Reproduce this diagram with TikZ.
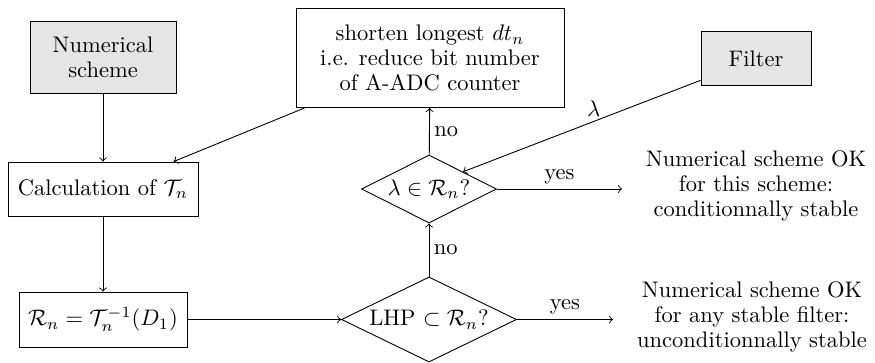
\documentclass[tikz,border=0pt]{standalone}
\usepackage{amsmath,amssymb}
\usetikzlibrary{shapes.geometric}

\tikzset{
  box/.style={draw=black, line width=0.4pt, inner sep=0pt, align=center,
    font=\fontsize{10}{11}\selectfont},
  inputbox/.style={box, fill=black!10},
  decision/.style={draw=black, line width=0.4pt, diamond, shape aspect=2,
    inner sep=0pt, font=\fontsize{10}{11}\selectfont},
  result/.style={align=center, inner sep=0pt, font=\fontsize{10}{11}\selectfont},
  flow/.style={draw=black, line width=0.4pt, ->},
  tag/.style={font=\fontsize{10}{11}\selectfont, inner sep=2pt}
}

\begin{document}
\begin{tikzpicture}[x=0.4444pt, y=-0.4444pt]
  \useasboundingbox (0,0) rectangle (875,363);

  % input blocks
  \node[inputbox, minimum width=64.9pt, minimum height=31.6pt] (scheme) at (103,57.5)
    {Numerical\\scheme};
  \node[inputbox, minimum width=48.9pt, minimum height=24.4pt] (filter) at (756,58.5)
    {Filter};

  % processing blocks
  \node[box, minimum width=84.4pt, minimum height=24pt] (calc) at (103,189)
    {Calculation of $\mathcal{T}_n$};
  \node[box, minimum width=74.7pt, minimum height=24.4pt] (region) at (103,319.5)
    {$\mathcal{R}_n=\mathcal{T}_n^{-1}(D_1)$};
  \node[box, minimum width=119.1pt, minimum height=44pt] (shorten) at (430,58)
    {shorten longest $dt_n$\\i.e. reduce bit number\\of A-ADC counter};

  % decisions
  \node[decision, minimum width=60pt, minimum height=30.2pt] (lam) at (429,189)
    {$\lambda\in\mathcal{R}_n$?};
  \node[decision, minimum width=77.8pt, minimum height=37.8pt] (lhp) at (429,319.5)
    {LHP $\subset\mathcal{R}_n$?};

  % outcomes
  \node[result] (condok) at (756,186)
    {Numerical scheme OK\\for this scheme:\\conditionnally stable};
  \node[result] (uncondok) at (752,317)
    {Numerical scheme OK\\for any stable filter:\\unconditionnally stable};
  \coordinate (condend) at (622,189);
  \coordinate (uncondend) at (613,319.5);

  % connectors
  \draw[flow] (scheme) -- (calc);
  \draw[flow] (calc) -- (region);
  \draw[flow] (region) -- (lhp);
  \draw[flow] (lhp) -- node[tag, right] {no} (lam);
  \draw[flow] (lam) -- node[tag, right] {no} (shorten);
  \draw[flow] ([xshift=4pt]shorten.south west) -- ([xshift=-11pt]calc.north east);
  \draw[flow] ([yshift=2.7pt]filter.south west) -- node[tag, pos=0.45, above=0pt] {$\lambda$} (lam.north east);
  \draw[flow] (lam.east) -- node[tag, above] {yes} (condend);
  \draw[flow] (lhp.east) -- node[tag, above] {yes} (uncondend);
\end{tikzpicture}
\end{document}
